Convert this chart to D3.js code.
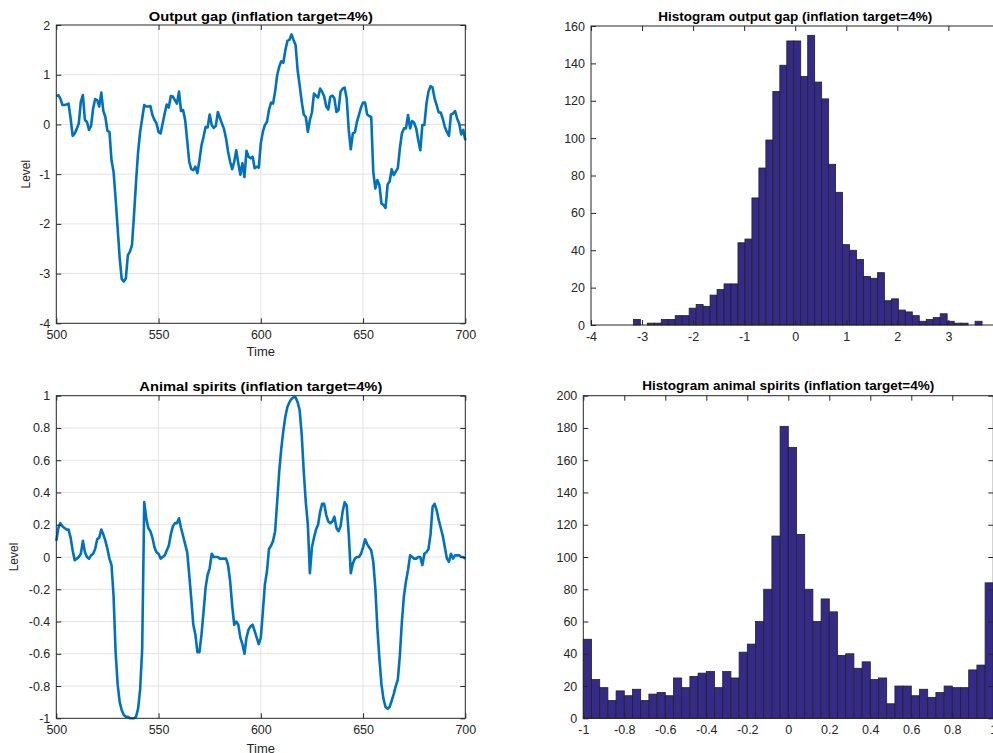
<!DOCTYPE html>
<html>
<head>
<meta charset="utf-8">
<script src="https://cdn.jsdelivr.net/npm/d3@7"></script>
<style>
  body { margin: 0; background: #fff; }
  svg { display: block; font-family: "Liberation Sans", Arial, Helvetica, sans-serif; }
</style>
</head>
<body>
<svg id="fig" width="993" height="753"></svg>
<script>
// time axis of the two simulated series
var timeSteps = d3.range(500, 701);

// output gap, t = 500..700
var outputGap = [
  0.57, 0.59, 0.52, 0.39, 0.39, 0.40, 0.42, 0.12, -0.23, -0.18,
  -0.09, 0.02, 0.46, 0.59, 0.09, 0.05, -0.11, -0.03, 0.32, 0.51,
  0.49, 0.36, 0.64, 0.27, 0.15, -0.13, -0.15, -0.72, -0.95, -1.49,
  -2.09, -2.69, -3.11, -3.16, -3.10, -2.63, -2.56, -2.43, -1.82, -1.15,
  -0.55, -0.15, 0.12, 0.39, 0.36, 0.36, 0.37, 0.19, 0.09, 0.02,
  -0.15, -0.18, 0.02, 0.22, 0.40, 0.34, 0.57, 0.56, 0.49, 0.42,
  0.66, 0.27, 0.29, 0.09, -0.32, -0.75, -0.90, -0.92, -0.85, -0.98,
  -0.72, -0.42, -0.25, -0.05, -0.06, 0.20, -0.01, -0.07, -0.03, 0.25,
  0.13, 0.02, -0.09, -0.28, -0.55, -0.75, -0.90, -0.75, -0.52, -0.78,
  -1.01, -0.78, -1.06, -0.53, -0.65, -0.68, -0.65, -0.88, -0.85, -0.87,
  -0.38, -0.15, -0.01, 0.05, 0.29, 0.44, 0.42, 0.66, 0.99, 1.16,
  1.27, 1.24, 1.49, 1.68, 1.70, 1.81, 1.70, 1.60, 1.09, 0.79,
  0.46, 0.20, 0.15, -0.15, 0.09, 0.24, 0.62, 0.58, 0.54, 0.72,
  0.66, 0.56, 0.36, 0.30, 0.56, 0.58, 0.52, 0.25, 0.29, 0.66,
  0.72, 0.74, 0.52, -0.11, -0.50, -0.18, -0.16, 0.05, 0.19, 0.34,
  0.44, 0.44, 0.20, 0.17, 0.15, -0.95, -1.29, -1.12, -1.22, -1.59,
  -1.62, -1.68, -1.21, -1.15, -0.90, -1.02, -0.95, -0.88, -0.48, -0.18,
  -0.08, -0.08, 0.19, -0.08, 0.07, 0.03, -0.08, -0.32, -0.52, -0.01,
  -0.01, 0.42, 0.66, 0.77, 0.74, 0.52, 0.39, 0.24, 0.24, 0.11,
  -0.05, -0.15, -0.23, 0.20, 0.22, 0.27, 0.12, 0.02, -0.20, -0.11,
  -0.32
];

// animal spirits, t = 500..700
var animalSpirits = [
  0.10, 0.18, 0.21, 0.19, 0.18, 0.17, 0.17, 0.12, 0.04, -0.02,
  -0.01, 0.00, 0.02, 0.10, 0.03, 0.00, -0.01, 0.01, 0.02, 0.05,
  0.11, 0.12, 0.17, 0.14, 0.10, 0.05, -0.01, -0.05, -0.24, -0.59,
  -0.79, -0.90, -0.95, -0.98, -0.99, -0.99, -1.00, -1.00, -1.00, -0.99,
  -0.94, -0.82, -0.57, 0.34, 0.24, 0.18, 0.16, 0.12, 0.06, 0.03,
  0.02, -0.01, 0.00, 0.01, 0.04, 0.07, 0.14, 0.19, 0.21, 0.21,
  0.24, 0.18, 0.13, 0.08, 0.03, -0.11, -0.26, -0.42, -0.48, -0.59,
  -0.59, -0.48, -0.34, -0.19, -0.11, -0.07, 0.02, 0.00, 0.00, 0.00,
  -0.01, -0.01, -0.01, -0.01, -0.05, -0.15, -0.30, -0.42, -0.40, -0.42,
  -0.50, -0.54, -0.60, -0.50, -0.45, -0.43, -0.42, -0.46, -0.50, -0.54,
  -0.50, -0.34, -0.17, -0.09, 0.05, 0.07, 0.10, 0.16, 0.34, 0.53,
  0.67, 0.78, 0.87, 0.93, 0.96, 0.98, 0.99, 0.99, 0.96, 0.91,
  0.76, 0.53, 0.34, 0.20, -0.10, 0.06, 0.12, 0.17, 0.20, 0.28,
  0.33, 0.33, 0.26, 0.22, 0.21, 0.22, 0.25, 0.18, 0.16, 0.19,
  0.28, 0.34, 0.32, 0.14, -0.10, -0.04, -0.01, 0.00, 0.00, 0.02,
  0.06, 0.11, 0.08, 0.06, 0.04, -0.03, -0.19, -0.44, -0.63, -0.79,
  -0.88, -0.93, -0.94, -0.93, -0.89, -0.85, -0.80, -0.76, -0.61, -0.40,
  -0.24, -0.15, -0.08, 0.01, 0.00, -0.01, -0.01, 0.00, 0.00, -0.05,
  0.02, 0.03, 0.05, 0.14, 0.31, 0.33, 0.29, 0.23, 0.18, 0.13,
  0.06, -0.01, -0.03, 0.02, -0.01, 0.01, 0.01, 0.01, 0.00, 0.00,
  -0.01
];

// histogram of the output gap: 50 equal bins over [min, max]
var gapHistRange = [-3.17, 3.66];
var gapHistCounts = [
  3, 0, 1, 1, 3, 3, 5, 5, 9, 11,
  10, 16, 19, 22, 22, 44, 46, 68, 84, 99,
  125, 139, 152, 152, 133, 155, 130, 121, 86, 71,
  43, 40, 35, 26, 25, 28, 13, 14, 8, 7,
  5, 2, 3, 4, 6, 2, 1, 1, 0, 2
];

// histogram of animal spirits: 50 equal bins over [-1, 1]
var spiritsHistRange = [-1, 1];
var spiritsHistCounts = [
  49, 24, 19, 11, 17, 14, 18, 11, 15, 16,
  14, 25, 19, 26, 28, 29, 19, 29, 25, 41,
  46, 60, 80, 113, 181, 168, 114, 80, 60, 74,
  66, 39, 40, 31, 35, 24, 25, 9, 20, 20,
  14, 18, 13, 16, 20, 19, 19, 30, 33, 84
];

// ticks
var timeTicks = [500, 550, 600, 650, 700];
var gapTicks = [-4, -3, -2, -1, 0, 1, 2];
var spiritsTicks = [-1, -0.8, -0.6, -0.4, -0.2, 0, 0.2, 0.4, 0.6, 0.8, 1];
// the +4 tick of the gap histogram falls just past the right edge of the figure
var gapHistXTicks = [-4, -3, -2, -1, 0, 1, 2, 3];
var gapHistYTicks = [0, 20, 40, 60, 80, 100, 120, 140, 160];
var spiritsHistYTicks = [0, 20, 40, 60, 80, 100, 120, 140, 160, 180, 200];

var titles = {
  gapLine: "Output gap (inflation target=4%)",
  gapHist: "Histogram output gap (inflation target=4%)",
  spiritsLine: "Animal spirits (inflation target=4%)",
  spiritsHist: "Histogram animal spirits (inflation target=4%)"
};

var AXIS_COLOR = "#262626";
var GRID_COLOR = "#e3e3e3";
var LINE_COLOR = "#0072bd";
var BAR_COLOR = "#352a87";

var svg = d3.select("#fig");
svg.append("rect").attr("width", 993).attr("height", 753).attr("fill", "#fff");

var fmt = function(d) { return String(d); };

function styleAxis(a) {
  a.select(".domain").remove();
  a.attr("color", AXIS_COLOR)
    .attr("font-family", null)
    .attr("font-size", 12.5);
  a.selectAll("text").attr("fill", AXIS_COLOR);
}

// box + inward ticks on all four sides, MATLAB style
function drawFrame(x, y, xTicks, yTicks) {
  var xr = x.range(), yr = y.range();
  var g = svg.append("g");
  g.append("g").attr("transform", "translate(0," + yr[0] + ")")
    .call(d3.axisBottom(x).tickValues(xTicks).tickFormat(fmt)
      .tickSizeInner(-5).tickSizeOuter(0).tickPadding(7))
    .call(styleAxis);
  g.append("g").attr("transform", "translate(0," + yr[1] + ")")
    .call(d3.axisTop(x).tickValues(xTicks).tickFormat("")
      .tickSizeInner(-5).tickSizeOuter(0))
    .call(styleAxis);
  g.append("g").attr("transform", "translate(" + xr[0] + ",0)")
    .call(d3.axisLeft(y).tickValues(yTicks).tickFormat(fmt)
      .tickSizeInner(-5).tickSizeOuter(0).tickPadding(6))
    .call(styleAxis);
  g.append("g").attr("transform", "translate(" + xr[1] + ",0)")
    .call(d3.axisRight(y).tickValues(yTicks).tickFormat("")
      .tickSizeInner(-5).tickSizeOuter(0))
    .call(styleAxis);
  g.append("rect")
    .attr("x", xr[0]).attr("y", yr[1])
    .attr("width", xr[1] - xr[0]).attr("height", yr[0] - yr[1])
    .attr("fill", "none").attr("stroke", AXIS_COLOR).attr("stroke-width", 1);
}

function drawTitle(text, cx, baseline, width) {
  svg.append("text")
    .attr("x", cx).attr("y", baseline)
    .attr("text-anchor", "middle")
    .attr("font-weight", "bold").attr("font-size", 12)
    .attr("textLength", width).attr("lengthAdjust", "spacingAndGlyphs")
    .attr("fill", "#000")
    .text(text);
}

function drawLinePanel(box, values, yDomain, yTicks, title, titleBase, titleWidth, levelX, timeBase) {
  var x = d3.scaleLinear().domain([500, 700]).range([box.l, box.r]);
  var y = d3.scaleLinear().domain(yDomain).range([box.b, box.t]);

  var grid = svg.append("g").attr("stroke", GRID_COLOR).attr("stroke-width", 1);
  grid.selectAll(".gx").data(timeTicks.slice(1, -1)).join("line")
    .attr("x1", function(d) { return x(d); }).attr("x2", function(d) { return x(d); })
    .attr("y1", box.t).attr("y2", box.b);
  grid.selectAll(".gy").data(yTicks.slice(1, -1)).join("line")
    .attr("x1", box.l).attr("x2", box.r)
    .attr("y1", function(d) { return y(d); }).attr("y2", function(d) { return y(d); });

  var line = d3.line()
    .x(function(d, i) { return x(timeSteps[i]); })
    .y(function(d) { return y(d); });
  svg.append("path").datum(values)
    .attr("d", line)
    .attr("fill", "none").attr("stroke", LINE_COLOR)
    .attr("stroke-width", 2.6).attr("stroke-linejoin", "round");

  drawFrame(x, y, timeTicks, yTicks);
  drawTitle(title, (box.l + box.r) / 2, titleBase, titleWidth);

  svg.append("text")
    .attr("x", (box.l + box.r) / 2).attr("y", timeBase)
    .attr("text-anchor", "middle").attr("font-size", 13)
    .attr("fill", AXIS_COLOR).text("Time");
  svg.append("text")
    .attr("transform", "translate(" + levelX + "," + ((box.t + box.b) / 2) + ") rotate(-90)")
    .attr("text-anchor", "middle").attr("font-size", 12)
    .attr("fill", AXIS_COLOR).text("Level");
}

function drawHistPanel(box, counts, range, xDomain, xTicks, yDomain, yTicks, title, titleBase, titleWidth) {
  var x = d3.scaleLinear().domain(xDomain).range([box.l, box.r]);
  var y = d3.scaleLinear().domain(yDomain).range([box.b, box.t]);
  var w = (range[1] - range[0]) / counts.length;

  svg.append("g").selectAll("rect").data(counts).join("rect")
    .attr("x", function(d, i) { return x(range[0] + i * w); })
    .attr("width", function(d, i) { return x(range[0] + (i + 1) * w) - x(range[0] + i * w); })
    .attr("y", function(d) { return y(d); })
    .attr("height", function(d) { return y(0) - y(d); })
    .attr("fill", BAR_COLOR)
    .attr("stroke", "#222").attr("stroke-width", 0.8);

  drawFrame(x, y, xTicks, yTicks);
  drawTitle(title, (box.l + box.r) / 2, titleBase, titleWidth);
}

drawLinePanel({l: 56.3, r: 465.3, t: 25, b: 323.3}, outputGap, [-4, 2], gapTicks,
  titles.gapLine, 21, 224, 29.5, 356);
drawLinePanel({l: 56.3, r: 465.3, t: 395.7, b: 718.3}, animalSpirits, [-1, 1], spiritsTicks,
  titles.spiritsLine, 391, 243, 17.5, 752.5);

drawHistPanel({l: 591, r: 999.4, t: 26, b: 325}, gapHistCounts, gapHistRange,
  [-4, 4], gapHistXTicks, [0, 160], gapHistYTicks,
  titles.gapHist, 21, 274);
drawHistPanel({l: 583.3, r: 993.3, t: 395.7, b: 718.3}, spiritsHistCounts, spiritsHistRange,
  [-1, 1], spiritsTicks, [0, 200], spiritsHistYTicks,
  titles.spiritsHist, 389.5, 292);
</script>
</body>
</html>
